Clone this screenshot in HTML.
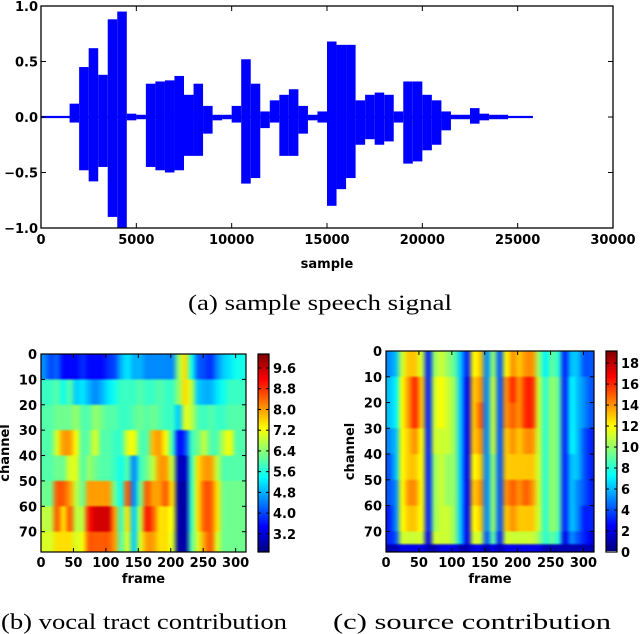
<!DOCTYPE html>
<html><head><meta charset="utf-8">
<style>
body{margin:0;background:#fff;width:640px;height:634px;overflow:hidden;position:relative;font-family:"DejaVu Sans","Liberation Sans",sans-serif}
svg{position:absolute;left:0;top:0}
canvas{position:absolute}
</style></head>
<body>
<canvas id="hb" width="205" height="198" style="left:41px;top:354px;width:205px;height:198px"></canvas>
<canvas id="hc" width="208" height="201" style="left:386px;top:351px;width:208px;height:201px"></canvas>
<canvas id="cbb" width="1" height="200" style="left:258px;top:354px;width:11px;height:198px"></canvas>
<canvas id="cbc" width="1" height="200" style="left:606px;top:351px;width:11px;height:200px"></canvas>
<svg id="s" width="640" height="634" xmlns="http://www.w3.org/2000/svg"></svg>
<script>
// ---- waveform data (500-sample bins) ----
const binStarts=[];for(let i=0;i<52;i++)binStarts.push(i*500);
const waveMax=[.01,.01,.01,.12,.45,.62,.38,.88,.95,.03,.02,.3,.32,.33,.37,.2,.3,.1,.02,.02,.1,.52,.3,.05,.15,.2,.25,.1,.02,.05,.68,.65,.65,.15,.2,.22,.2,.05,.32,.32,.2,.15,.05,.02,.02,.08,.03,.02,.02,.01,.01,.01];
const waveMin=[-.01,-.01,-.01,-.05,-.48,-.58,-.45,-.9,-1.0,-.03,-.02,-.45,-.48,-.5,-.48,-.35,-.35,-.15,-.03,-.02,-.05,-.6,-.55,-.1,-.05,-.35,-.35,-.15,-.03,-.05,-.8,-.65,-.55,-.25,-.2,-.25,-.22,-.05,-.42,-.4,-.3,-.25,-.12,-.02,-.02,-.06,-.03,-.02,-.02,-.01,-.01,-.01];
const xTicksA=[0,5000,10000,15000,20000,25000,30000];
const yTicksA=[1.0,0.5,0.0,-0.5,-1.0];
// ---- heatmap (b) vocal tract ----
const bRows=[[0,10],[10,20],[20,30],[30,40],[40,50],[50,60],[60,70],[70,78]];
const bVals=[
[4.5,4,4.2,3.5,3.5,3.5,3.8,3.5,3.5,3.5,3.8,4,4.8,5.2,4.8,4.8,4.5,4.5,4.5,4.5,4.5,6.5,7.5,5.5,4.2,4,3.8,4.5,5,5.2,5.5,5.5],
[5.8,5.8,6,5.5,6,5,5.2,4.8,4.5,4.8,5.2,5.5,5.8,5.8,5.8,6,5.8,5.8,6,5.8,5.8,6.5,7.5,6.8,5,4.8,4.8,5.2,5.5,5.8,5.8,5.8],
[6,6,6.2,6.2,6.2,6.5,6,6,6.5,6.2,6,6,5.8,5.8,6,6.2,6,6.2,6,5.8,5.8,5,7,6.8,6,5.8,6,5.8,5.8,6,6,6],
[6,6,7,8,8,7.2,6,6.2,7,6,6,5.8,5.8,7,7.2,6,6,7.8,8,7.2,5.8,3.5,4,5.8,6.2,6.8,6,6,6.8,7.2,6,6],
[6,6,6.2,6.2,7,7,6,6.5,6.2,6,6,5.8,5.5,6,4.5,5.8,6.2,6.8,8,8,6.8,3,3,5.8,7.5,8,8,6.8,6,6,6,6],
[6.2,6.2,8.5,8.5,8,6.8,6.2,8,8,8,8,6.2,5.5,8.5,4.5,6.2,8.5,8,8,8.5,7.5,2.8,2.8,5.8,7.5,8.5,8.5,7.5,6.2,6.2,6.2,6.2],
[6.8,6.8,8.5,7.5,8.5,6.8,6.8,9,9.5,9.5,9.5,8,5.8,7.5,5,6.8,9,8.5,7.5,7.5,7.2,2.8,2.8,5.8,7.5,8.5,8.5,7.5,6.2,6.2,6.2,6.2],
[7,7,7.5,7.5,7.5,7,7.2,8.5,8.5,8.5,8.5,8,6,7,5,7,8,8,7.5,7.5,7,2.8,2.8,6,7,8,8.5,7,6.2,6.2,6.2,6.2]];
const bRange=[2.5,10.14];
const bTicks=[3.2,4.0,4.8,5.6,6.4,7.2,8.0,8.8,9.6];
// ---- heatmap (c) source ----
const cRows=[[0,10],[10,20],[20,30],[30,40],[40,50],[50,60],[60,70],[70,75],[75,78]];
const cVals=[
[5,6,11,13,13,11,3,10,11,10,9,6,3,12,13,5,10,4,12,14,13,14,14,10,7,9,8,3,6,6,4,4],
[6,7,12,14,16,13,3,11,12,11,10,6,2,13,14,5,11,4,14,16,14,16,16,11,8,10,9,3,7,6,5,4],
[6,7,12,14,16,13,3,11,12,11,10,6,2,13,15,5,11,4,14,15,14,16,16,11,8,10,9,3,7,6,5,4],
[5,6,12,13,14,12,3,11,11,11,10,6,2,13,14,5,11,4,13,14,13,14,14,11,8,10,9,3,7,6,4,3],
[4,6,12,13,13,12,3,10,11,10,10,6,2,12,13,5,10,4,13,13,13,13,13,11,8,10,9,3,6,6,4,3],
[4,5,12,14,14,12,3,10,11,10,10,6,2,13,14,5,10,4,14,15,14,15,14,11,8,10,9,3,6,5,4,3],
[3,5,12,13,13,12,3,10,11,11,10,6,2,12,13,5,10,4,13,14,13,13,13,11,8,10,9,3,6,5,3,3],
[3,4,11,11,11,11,2,11,11,11,10,6,2,11,11,4,9,3,11,11,11,11,11,10,8,9,8,2,5,4,3,2],
[1,1,2,2,2,2,1,1,2,2,2,1,1,2,2,1,2,1,2,2,2,2,2,2,1,1,1,1,1,1,1,1]];
const cRange=[0,19.15];
const cTicks=[0,2,4,6,8,10,12,14,16,18];
const frameTicks=[0,50,100,150,200,250,300];
const chanTicks=[0,10,20,30,40,50,60,70];

function jet(t){t=Math.max(0,Math.min(1,t));
 const r=Math.max(0,Math.min(1,1.5-Math.abs(4*t-3))),g=Math.max(0,Math.min(1,1.5-Math.abs(4*t-2))),b=Math.max(0,Math.min(1,1.5-Math.abs(4*t-1)));
 return `rgb(${r*255|0},${g*255|0},${b*255|0})`;}
function heat(id,rows,vals,range){const big=document.getElementById(id);
 const sm=document.createElement('canvas');sm.width=32;sm.height=78;const c=sm.getContext('2d');
 vals.forEach((row,ri)=>row.forEach((v,ci)=>{c.fillStyle=jet((v-range[0])/(range[1]-range[0]));c.fillRect(ci,rows[ri][0],1,rows[ri][1]-rows[ri][0]);}));
 const g=big.getContext('2d');g.imageSmoothingEnabled=true;g.imageSmoothingQuality='high';g.drawImage(sm,0,0,big.width,big.height);}
heat('hb',bRows,bVals,bRange);heat('hc',cRows,cVals,cRange);
function cbar(id){const c=document.getElementById(id).getContext('2d');for(let i=0;i<200;i++){c.fillStyle=jet(1-i/199);c.fillRect(0,i,1,1);}}
cbar('cbb');cbar('cbc');

const S=document.getElementById('s');const NS='http://www.w3.org/2000/svg';
function el(tag,a,txt){const e=document.createElementNS(NS,tag);for(const k in a)e.setAttribute(k,a[k]);if(txt!==undefined)e.textContent=txt;S.appendChild(e);return e;}
const tf={'font-family':'"DejaVu Sans","Liberation Sans",sans-serif','font-weight':'bold','font-size':'13'};
// top chart
const L=41,R=613,T=6,B=228;
const xs=s=>L+s/30000*(R-L), ys=v=>(T+B)/2-v*(B-T)/2;
let e=el('line',{x1:xs(0),x2:xs(25800),y1:ys(0),y2:ys(0),stroke:'#0000ff','stroke-width':1.5});

binStarts.forEach((s,i)=>{const w=Math.min(500,25800-s);
 e=el('rect',{x:xs(s),y:ys(waveMax[i]),width:xs(s+w)-xs(s),height:ys(waveMin[i])-ys(waveMax[i]),fill:'#0000ff'});
 });
e=el('rect',{x:L,y:T,width:R-L,height:B-T,fill:'none',stroke:'#000','stroke-width':1.3});

xTicksA.forEach(t=>{const x=xs(t);el('line',{x1:x,x2:x,y1:B,y2:B-5,stroke:'#000'});el('line',{x1:x,x2:x,y1:T,y2:T+5,stroke:'#000'});
 e=el('text',Object.assign({x:x,y:B+16,'text-anchor':'middle'},tf),String(t));
 });
yTicksA.forEach(t=>{const y=ys(t);el('line',{x1:L,x2:L+5,y1:y,y2:y,stroke:'#000'});el('line',{x1:R,x2:R-5,y1:y,y2:y,stroke:'#000'});
 e=el('text',Object.assign({x:L-3,y:y+5,'text-anchor':'end'},tf),(t<0?'\u2212':'')+Math.abs(t).toFixed(1));
 });
e=el('text',Object.assign({x:327,y:268,'text-anchor':'middle'},tf),'sample');

const cap={'font-family':'"Liberation Serif",serif','font-size':'22','lengthAdjust':'spacingAndGlyphs'};
e=el('text',Object.assign({x:188,y:310,textLength:264},cap),'(a) sample speech signal');

// heatmap axes
function hax(l,t,w,h,cbx,cbw,ticks,range,capx,capw,captxt,nm){
 const fx=f=>l+f/316*w, cy=c=>t+c/78*h;
 e=el('rect',{x:l,y:t,width:w,height:h,fill:'none',stroke:'#000','stroke-width':1.2});
 
 frameTicks.forEach(f=>{const x=fx(f);el('line',{x1:x,x2:x,y1:t+h,y2:t+h-4,stroke:'#000'});el('line',{x1:x,x2:x,y1:t,y2:t+4,stroke:'#000'});
  e=el('text',Object.assign({x:x,y:t+h+15,'text-anchor':'middle'},tf),String(f));
  });
 chanTicks.forEach(c=>{const y=cy(c);el('line',{x1:l,x2:l+4,y1:y,y2:y,stroke:'#000'});el('line',{x1:l+w,x2:l+w-4,y1:y,y2:y,stroke:'#000'});
  e=el('text',Object.assign({x:l-4,y:y+5,'text-anchor':'end'},tf),String(c));
  });
 e=el('text',Object.assign({x:l+w/2,y:t+h+31,'text-anchor':'middle'},tf),'frame');
 
 e=el('text',Object.assign({x:0,y:0,'text-anchor':'middle',transform:`translate(${l-32},${t+h/2}) rotate(-90)`},tf),'channel');
 
 e=el('rect',{x:cbx,y:t,width:cbw,height:h,fill:'none',stroke:'#000','stroke-width':1.2});
 
 ticks.forEach(v=>{const y=t+h-(v-range[0])/(range[1]-range[0])*h;el('line',{x1:cbx+cbw,x2:cbx+cbw-3,y1:y,y2:y,stroke:'#000'});el('line',{x1:cbx,x2:cbx+3,y1:y,y2:y,stroke:'#000'});
  e=el('text',Object.assign({x:cbx+cbw+4,y:y+5},tf),Number.isInteger(v)&&range[1]>15?String(v):v.toFixed(1));
  });
 e=el('text',Object.assign({x:capx,y:629,textLength:capw},cap),captxt);
 
}
hax(41,354,205,198,258,11,bTicks,bRange,1,286,'(b) vocal tract contribution','vocal-tract');
hax(386,351,208,201,606,11,cTicks,cRange,333,278,'(c) source contribution','source');
</script>
</body></html>
